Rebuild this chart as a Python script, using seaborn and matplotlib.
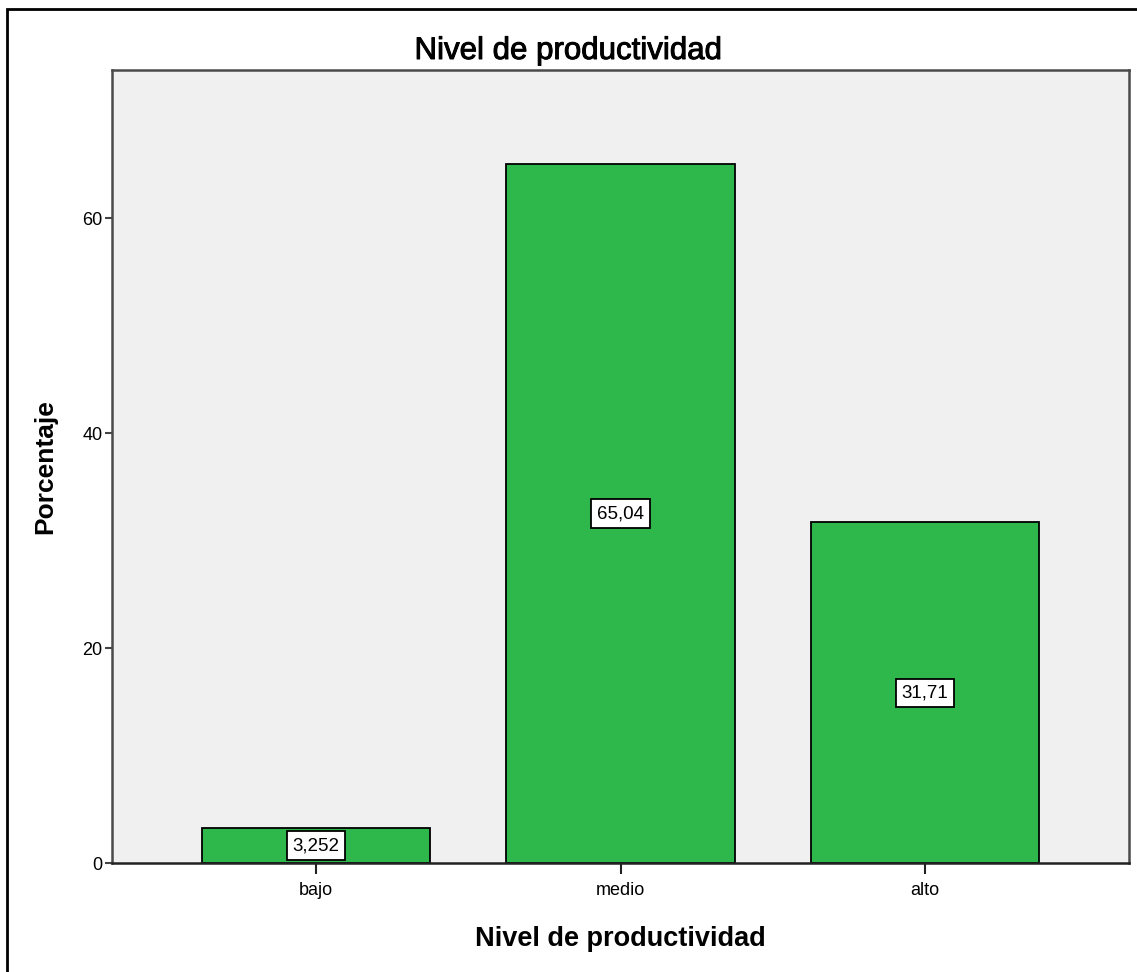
import matplotlib
matplotlib.use("Agg")
import matplotlib.pyplot as plt
import matplotlib.patches as mpatches
import matplotlib.patheffects as pe
import seaborn as sns
import pandas as pd

categories = ["bajo", "medio", "alto"]
percentages = [3.252, 65.04, 31.71]
y_ticks = [0, 20, 40, 60]

sns.set_style("white")
plt.rcParams["font.family"] = ["Liberation Sans", "DejaVu Sans"]

df = pd.DataFrame({"nivel": categories, "porcentaje": percentages})

fig = plt.figure(figsize=(11.37, 9.72), dpi=100)
ax = fig.add_axes([112 / 1137, 1 - 863 / 972, (1129 - 112) / 1137, (863 - 70) / 972])
ax.set_facecolor("#f0f0f0")

sns.barplot(data=df, x="nivel", y="porcentaje", order=categories, color="#2eb84b",
            saturation=1, edgecolor="black", linewidth=1.3, width=0.75, ax=ax)

ax.set_xlim(-0.67, 2.67)
ax.set_ylim(0, 73.8)
ax.set_yticks(y_ticks)
ax.set_yticklabels([str(t) for t in y_ticks])

for spine in ax.spines.values():
    spine.set_visible(True)
    spine.set_color("#4a4a4a")
    spine.set_linewidth(1.8)
ax.spines["bottom"].set_color("#222222")

ax.tick_params(axis="y", direction="out", length=5, width=1.5, color="#444444",
               labelsize=13, labelcolor="black", pad=2, left=True)
ax.tick_params(axis="x", direction="out", length=8, width=1.5, color="#222222",
               labelsize=13, labelcolor="black", pad=6, bottom=True)

# value labels in boxes at half bar height
for i, v in enumerate(percentages):
    txt = f"{v:.4g}".replace(".", ",")
    ax.text(i, v / 2, txt, ha="center", va="center", fontsize=13.5, color="black",
            bbox=dict(boxstyle="square,pad=0.3", facecolor="white",
                      edgecolor="black", linewidth=1.3))

ax.set_xlabel("Nivel de productividad", fontsize=19.5, fontweight="bold",
              color="black", labelpad=19)
ax.set_ylabel("Porcentaje", fontsize=19, fontweight="bold", color="black", labelpad=18)

# chart title, centred on the whole figure, slightly heavier than regular
fig.text(0.5, 1 - 59 / 972, "Nivel de productividad", ha="center", va="baseline",
         fontsize=22.5, color="black",
         path_effects=[pe.withStroke(linewidth=0.7, foreground="black")])

# outer frame around the whole figure (right and bottom edges fall outside)
frame = mpatches.Rectangle((6.5 / 1137, -10 / 972), 1.1, (972 - 8.5 + 10) / 972,
                           transform=fig.transFigure, fill=False,
                           edgecolor="black", linewidth=2)
fig.patches.append(frame)

fig.savefig("out.png", dpi=100, facecolor="white")
